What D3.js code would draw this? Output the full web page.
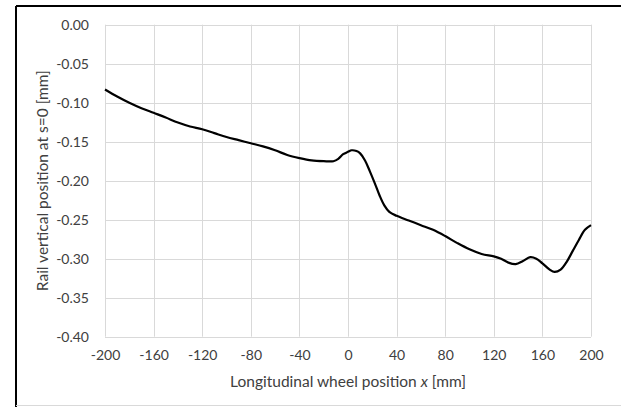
<!DOCTYPE html>
<html><head><meta charset="utf-8">
<script src="https://cdn.jsdelivr.net/npm/d3@7"></script>
<style>body{margin:0;background:#fff}svg{display:block}text{font-family:Lato,"Open Sans",sans-serif;fill:#404040}</style>
</head><body>
<script>
const xValues = [-200,-190,-180,-170,-160,-150,-140,-130,-120,-110,-100,-90,-80,-70,-60,-50,-40,-30,-20,-12,-8,-4,0,3,7,10,14,18,22,26,30,34,40,50,60,70,80,90,100,110,120,126,132,138,144,150,155,160,166,170,175,180,185,190,195,200];
const yValues = [-0.083,-0.092,-0.100,-0.107,-0.113,-0.119,-0.1255,-0.1305,-0.134,-0.139,-0.144,-0.148,-0.152,-0.156,-0.161,-0.167,-0.171,-0.174,-0.175,-0.175,-0.172,-0.166,-0.163,-0.161,-0.162,-0.165,-0.174,-0.188,-0.203,-0.219,-0.232,-0.240,-0.245,-0.251,-0.257,-0.263,-0.271,-0.280,-0.288,-0.294,-0.297,-0.300,-0.305,-0.307,-0.303,-0.298,-0.300,-0.306,-0.314,-0.317,-0.314,-0.304,-0.290,-0.276,-0.263,-0.257];
const xTicks = [-200,-160,-120,-80,-40,0,40,80,120,160,200];
const yTicks = [0,-0.05,-0.10,-0.15,-0.20,-0.25,-0.30,-0.35,-0.40];

const W = 621, H = 407;
const svg = d3.select("body").append("svg").attr("width", W).attr("height", H);
const x = d3.scaleLinear().domain([-200, 200]).range([105, 591]);
const y = d3.scaleLinear().domain([0, -0.40]).range([24.7, 336.7]);
const hy = s => s.replace("\u2212", "-");

// outer frame
svg.append("line").attr("x1",16).attr("x2",16).attr("y1",6).attr("y2",407).attr("stroke","#000").attr("stroke-width",2);
svg.append("line").attr("x1",16).attr("x2",621).attr("y1",6).attr("y2",6).attr("stroke","#000").attr("stroke-width",2);
svg.append("line").attr("x1",16).attr("x2",621).attr("y1",405.5).attr("y2",405.5).attr("stroke","#d9d9d9").attr("stroke-width",1);

// gridlines
const g = svg.append("g");
g.selectAll(".gx").data(xTicks).join("line")
  .attr("x1", d => Math.round(x(d)) + 0.5).attr("x2", d => Math.round(x(d)) + 0.5)
  .attr("y1", y(0)).attr("y2", y(-0.40))
  .attr("stroke", "#d9d9d9").attr("stroke-width", 1);
g.selectAll(".gy").data(yTicks).join("line")
  .attr("x1", x(-200)).attr("x2", x(200))
  .attr("y1", d => Math.round(y(d)) + 0.5).attr("y2", d => Math.round(y(d)) + 0.5)
  .attr("stroke", "#d9d9d9").attr("stroke-width", 1);

// axes labels via d3 axes
const f2 = d3.format(".2f"), fd = d3.format("d");
const yAxis = svg.append("g").attr("transform", `translate(${x(-200)},0)`)
  .call(d3.axisLeft(y).tickValues(yTicks).tickFormat(d => hy(f2(d))).tickSize(0).tickPadding(16));
yAxis.select(".domain").remove();
yAxis.selectAll("text").style("font-size","14px").style("font-family","Lato, sans-serif").attr("fill","#404040");

const xAxis = svg.append("g").attr("transform", `translate(0,${y(-0.40)})`)
  .call(d3.axisBottom(x).tickValues(xTicks).tickFormat(d => hy(fd(d))).tickSize(0).tickPadding(13));
xAxis.select(".domain").remove();
xAxis.selectAll("text").style("font-size","14px").style("font-family","Lato, sans-serif").attr("fill","#404040");

// data line
const line = d3.line().x((d,i) => x(xValues[i])).y(d => y(d)).curve(d3.curveCatmullRom.alpha(0.5));
svg.append("path").datum(yValues).attr("d", line)
  .attr("fill","none").attr("stroke","#000").attr("stroke-width",2.2).attr("stroke-linejoin","round");

// axis titles
const xt = svg.append("text").attr("x", (x(-200)+x(200))/2).attr("y", 387)
  .attr("text-anchor","middle").style("font-size","15.5px");
xt.append("tspan").text("Longitudinal wheel position ");
xt.append("tspan").style("font-style","italic").text("x");
xt.append("tspan").text(" [mm]");

svg.append("text").attr("transform", `translate(48,${(y(0)+y(-0.40))/2}) rotate(-90)`)
  .attr("text-anchor","middle").style("font-size","15.5px")
  .text("Rail vertical position at s=0 [mm]");
</script>
</body></html>
